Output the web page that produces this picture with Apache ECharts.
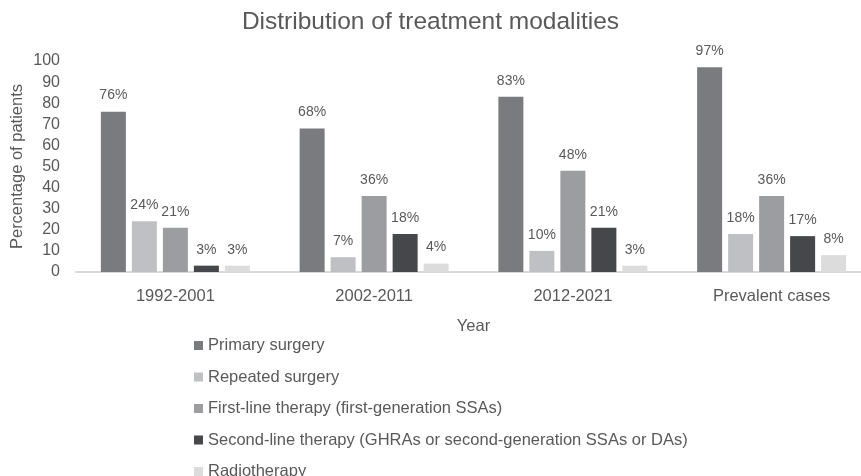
<!DOCTYPE html>
<html>
<head>
<meta charset="utf-8">
<script src="https://cdn.jsdelivr.net/npm/echarts@6/dist/echarts.min.js"></script>
<style>
  html, body { margin: 0; padding: 0; background: #fff; }
  #chart { width: 861px; height: 476px; }
</style>
</head>
<body>
<div id="chart"></div>
<script>
// data
const years = ['1992-2001', '2002-2011', '2012-2021', 'Prevalent cases'];
const primarySurgery = [76, 68, 83, 97];
const repeatedSurgery = [24, 7, 10, 18];
const firstLine = [21, 36, 48, 36];
const secondLine = [3, 18, 21, 17];
const radiotherapy = [3, 4, 3, 8];
const yTicks = [0, 10, 20, 30, 40, 50, 60, 70, 80, 90, 100];

const txt = '#595959';
const font = 'Liberation Sans, Arial, sans-serif';

function bar(name, data, color) {
    return {
        name: name,
        type: 'bar',
        data: data,
        barWidth: 25,
        barGap: '24%',
        itemStyle: { color: color },
        label: {
            show: true,
            position: 'top',
            distance: 9,
            formatter: '{c}%',
            color: txt,
            fontSize: 14,
            fontFamily: font
        }
    };
}

let myCharts = echarts.init(document.getElementById('chart'));
myCharts.setOption({
    animation: false,
    title: {
        text: 'Distribution of treatment modalities',
        left: 'center',
        top: 5,
        textStyle: { color: txt, fontSize: 24.5, fontWeight: 'normal', fontFamily: font }
    },
    grid: {
        left: 76,
        width: 795,
        top: 61,
        bottom: 204,
        outerBoundsMode: 'none'
    },
    legend: {
        orient: 'vertical',
        left: 189,
        top: 332,
        height: 200,
        itemWidth: 9,
        itemHeight: 9,
        itemGap: 14.5,
        icon: 'rect',
        textStyle: { color: txt, fontSize: 16.5, fontFamily: font, lineHeight: 17 }
    },
    xAxis: {
        type: 'category',
        data: years,
        name: 'Year',
        nameLocation: 'middle',
        nameGap: 46,
        nameTextStyle: { color: txt, fontSize: 16.5, fontFamily: font },
        axisLine: { show: true, lineStyle: { color: '#d9d9d9', width: 2 } },
        axisTick: { show: false },
        axisLabel: { color: txt, fontSize: 16.5, fontFamily: font, margin: 16 }
    },
    yAxis: {
        type: 'value',
        min: yTicks[0],
        max: yTicks[yTicks.length - 1],
        interval: 10,
        name: 'Percentage of patients',
        nameLocation: 'middle',
        nameGap: 50,
        nameMoveOverlap: false,
        nameTextStyle: { color: txt, fontSize: 16.5, fontFamily: font },
        axisLine: { show: false },
        axisTick: { show: false },
        //分割线不要
        splitLine: { show: false },
        axisLabel: { color: txt, fontSize: 16, fontFamily: font, margin: 16 }
    },
    series: [
        bar('Primary surgery', primarySurgery, '#7a7b7f'),
        bar('Repeated surgery', repeatedSurgery, '#bfc0c3'),
        bar('First-line therapy (first-generation SSAs)', firstLine, '#9c9da0'),
        bar('Second-line therapy (GHRAs or second-generation SSAs or DAs)', secondLine, '#46474a'),
        bar('Radiotherapy', radiotherapy, '#dcdcdd')
    ]
});
</script>
</body>
</html>
